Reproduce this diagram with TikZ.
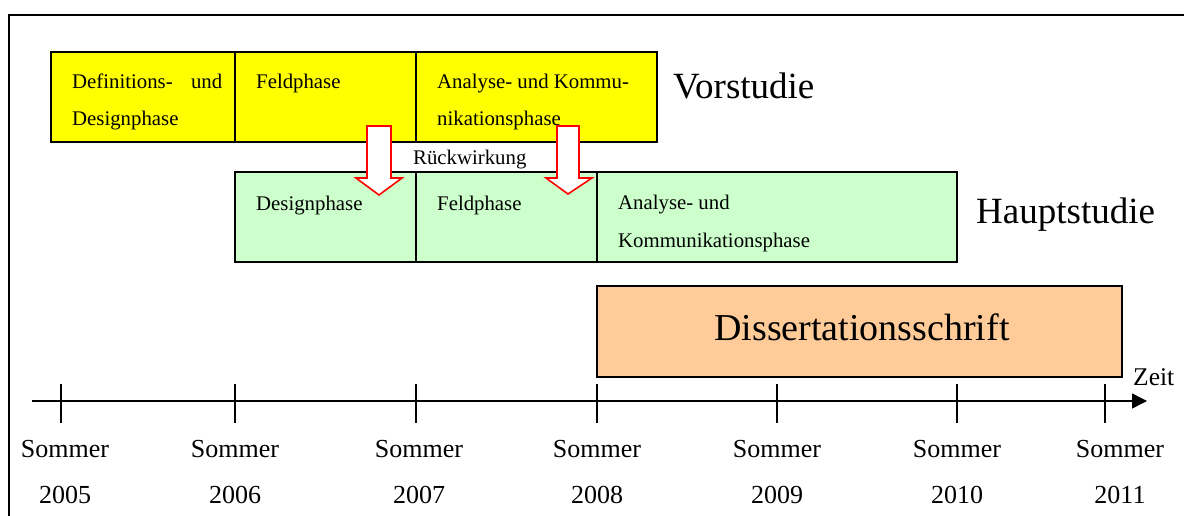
\documentclass[tikz,border=0pt]{standalone}
\usepackage{fontspec}
\setmainfont{Liberation Serif}
\usetikzlibrary{arrows.meta}
\definecolor{vyellow}{HTML}{FFFF00}
\definecolor{hgreen}{HTML}{CCFFCC}
\definecolor{dorange}{HTML}{FFCC99}
\tikzset{
  x=1pt, y=-1pt,
  phasebox/.style={draw=black, line width=1.4pt, inner sep=0pt, outer sep=0pt, anchor=north west},
  small/.style={font=\fontsize{20.8}{24}\selectfont, inner sep=0pt, anchor=base west},
  big/.style={font=\fontsize{37}{42}\selectfont, inner sep=0pt, anchor=base west},
  axlabel/.style={font=\fontsize{26}{30}\selectfont, inner sep=0pt, anchor=base},
  blockarrow/.style={draw=red, fill=white, line width=1.6pt, line join=miter},
  tick/.style={line width=1.4pt},
}
\begin{document}
\begin{tikzpicture}
\useasboundingbox (0,0) rectangle (1184,516);
\fill[white] (0,0) rectangle (1184,516);
% frame
\draw[line width=2pt] (9,517) -- (9,15) -- (1185,15);

% Vorstudie boxes
\node[phasebox, fill=vyellow, minimum width=184pt, minimum height=90pt] (v1) at (51,52) {};
\node[phasebox, fill=vyellow, minimum width=181pt, minimum height=90pt] (v2) at (235,52) {};
\node[phasebox, fill=vyellow, minimum width=241pt, minimum height=90pt] (v3) at (416,52) {};
\node[small] (v1a) at (72,89) {\makebox[150pt][s]{Definitions- und}};
\node[small] (v1b) at (72,126) {Designphase};
\node[small] (v2a) at (256,89) {Feldphase};
\node[small] (v3a) at (437,89) {Analyse- und Kommu-};
\node[small] (v3b) at (437,126) {nikationsphase};
\node[big] (vlab) at (673,99) {Vorstudie};

% Hauptstudie boxes
\node[phasebox, fill=hgreen, minimum width=181pt, minimum height=90pt] (h1) at (235,172) {};
\node[phasebox, fill=hgreen, minimum width=181pt, minimum height=90pt] (h2) at (416,172) {};
\node[phasebox, fill=hgreen, minimum width=360pt, minimum height=90pt] (h3) at (597,172) {};
\node[small] (h1a) at (256,211) {Designphase};
\node[small] (h2a) at (437,211) {Feldphase};
\node[small] (h3a) at (618,210) {Analyse- und};
\node[small] (h3b) at (618,247) {Kommunikationsphase};
\node[big] (hlab) at (976,223) {Hauptstudie};

% Rueckwirkung
\node[small] (rw) at (413,165) {Rückwirkung};

% block arrows
\coordinate (a1) at (379,195);
\draw[blockarrow] (367,126) -- (391,126) -- (391,178) -- (402,178) -- (a1) -- (356,178) -- (367,178) -- cycle;
\coordinate (a2) at (568,194);
\draw[blockarrow] (557,126) -- (579,126) -- (579,178) -- (592,178) -- (a2) -- (546,178) -- (557,178) -- cycle;

% Dissertationsschrift
\node[phasebox, fill=dorange, minimum width=525pt, minimum height=91pt] (diss) at (597,286) {};
\node[font=\fontsize{38}{44}\selectfont, inner sep=0pt, anchor=base] (dlab) at (862,340) {Dissertationsschrift};

% time axis
\coordinate (axs) at (32,401);
\coordinate (axe) at (1147,401);
\draw[line width=1.4pt, -{Triangle[length=15pt,width=15pt]}] (axs) -- (axe);
\node[font=\fontsize{25.5}{30}\selectfont, inner sep=0pt, anchor=base west] (zeit) at (1133,385) {Zeit};

\foreach \x/\lx/\yr in {61/65/2005, 235/235/2006, 416/419/2007, 597/597/2008, 777/777/2009, 957/957/2010, 1105/1120/2011}{
  \draw[tick] (\x,384) -- (\x,423);
  \node[axlabel] (s\yr) at (\lx,457) {Sommer};
  \node[axlabel] (y\yr) at (\lx,503) {\yr};
}
\end{tikzpicture}
\end{document}
